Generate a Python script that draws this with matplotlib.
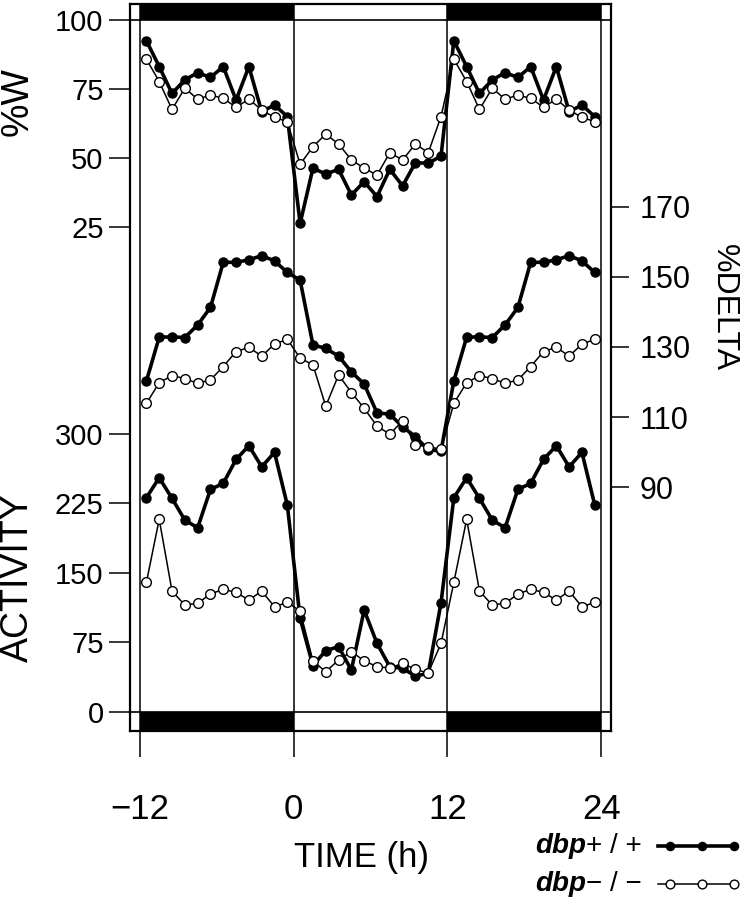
import matplotlib
matplotlib.use('Agg')
import matplotlib.pyplot as plt
from matplotlib.lines import Line2D
from matplotlib.patches import Rectangle

plt.rcParams['font.family'] = ['Liberation Sans', 'DejaVu Sans']

# ---------------- data (hourly means, half-hour centred) ----------------
# dark period (-12..0) and light period (0..12); the dark period is double plotted at 12..24
hours_dark = [-11.5, -10.5, -9.5, -8.5, -7.5, -6.5, -5.5, -4.5, -3.5, -2.5, -1.5, -0.5]
hours_light = [0.5, 1.5, 2.5, 3.5, 4.5, 5.5, 6.5, 7.5, 8.5, 9.5, 10.5, 11.5]
hours_dark2 = [12.5, 13.5, 14.5, 15.5, 16.5, 17.5, 18.5, 19.5, 20.5, 21.5, 22.5, 23.5]

wake_wt_dark = [92.5, 83.1, 73.4, 78.3, 80.9, 79.2, 83.1, 71.0, 83.1, 66.8, 69.2, 65.0]
wake_wt_light = [26.3, 46.3, 44.2, 45.9, 36.6, 41.4, 36.0, 45.9, 39.9, 48.3, 48.1, 50.7]
wake_ko_dark = [85.8, 77.7, 67.6, 75.3, 71.3, 72.8, 71.6, 68.4, 71.3, 67.4, 64.7, 63.2]
wake_ko_light = [47.7, 54.1, 58.6, 55.1, 49.3, 46.3, 43.8, 51.9, 49.3, 55.1, 51.9, 65.0]

delta_wt_dark = [120.3, 132.8, 132.9, 132.7, 136.3, 141.3, 154.2, 154.2, 154.9, 156.1, 154.6, 151.3]
delta_wt_light = [149.1, 130.6, 129.6, 127.4, 122.9, 119.4, 111.2, 110.8, 107.2, 104.4, 100.6, 100.3]
delta_ko_dark = [113.9, 119.8, 121.8, 121.0, 119.6, 120.6, 124.4, 128.7, 129.9, 127.4, 130.8, 132.2]
delta_ko_light = [126.8, 124.9, 113.1, 122.0, 117.0, 112.5, 107.4, 105.1, 108.9, 102.0, 101.5, 100.8]

act_wt_dark = [231.2, 252.8, 230.5, 207.1, 198.8, 240.2, 246.7, 272.6, 287.3, 264.6, 280.1, 223.3]
act_wt_light = [101.1, 50.0, 66.2, 70.5, 45.3, 110.0, 74.1, 48.9, 47.1, 38.8, 41.7, 117.9]
act_ko_dark = [139.9, 207.9, 130.5, 115.4, 117.3, 127.3, 132.4, 129.1, 120.8, 130.5, 113.6, 118.3]
act_ko_light = [109.0, 55.0, 43.5, 56.1, 65.0, 55.3, 48.9, 47.5, 52.5, 46.0, 42.0, 74.1]

x_ticks = [-12, 0, 12, 24]
wake_ticks = [25, 50, 75, 100]
act_ticks = [0, 75, 150, 225, 300]
delta_ticks = [90, 110, 130, 150, 170]

hours = hours_dark + hours_light + hours_dark2


def triple(dark, light):
    return dark + light + dark

# ---------------- layout (pixel calibration of the reference) ----------------
W, H = 747, 899
fx0, fx1 = 130.0, 610.7      # outer frame, px
fy0, fy1 = 4.0, 730.7
px_per_h = 12.81
x_m12 = 140.0


def t_of(px):
    return -12 + (px - x_m12) / px_per_h


xlim = (t_of(fx0), t_of(fx1))


def lim(v_ref, y_ref, px_per_unit):
    # value at frame bottom, value at frame top
    return (v_ref - (fy1 - y_ref) / px_per_unit, v_ref + (y_ref - fy0) / px_per_unit)


rect = [fx0 / W, 1 - fy1 / H, (fx1 - fx0) / W, (fy1 - fy0) / H]

fig = plt.figure(figsize=(W / 100, H / 100), dpi=100)

# frame axes: y in reference pixels (downward)
ax = fig.add_axes(rect)
ax.set_xlim(*xlim)
ax.set_ylim(fy1, fy0)
for s in ax.spines.values():
    s.set_linewidth(1.6)
ax.set_yticks([])
ax.set_xticks(x_ticks)
ax.set_xticklabels(['\u221212', '0', '12', '24'])
ax.tick_params(axis='x', direction='out', length=19, width=1.1, pad=26, labelsize=25)

# light/dark bars
for y0, y1 in [(fy0, 20.0), (712.0, fy1)]:
    ax.add_patch(Rectangle((-12, y0), 12, y1 - y0, color='black', lw=0))
    ax.add_patch(Rectangle((12, y0), 12, y1 - y0, color='black', lw=0))
ax.axhline(20.0, color='black', lw=1.2)
ax.axhline(712.0, color='black', lw=1.2)
for xv in x_ticks:
    ax.axvline(xv, color='black', lw=1.1)

wt_style = dict(color='black', lw=2.6, marker='o', ms=6.5, mfc='black', mec='black')
ko_style = dict(color='black', lw=1.1, marker='o', ms=7.0, mfc='white', mec='black', mew=1.0)


def data_axes(ylims):
    a = fig.add_axes(rect, frameon=False)
    a.set_xlim(*xlim)
    a.set_ylim(*ylims)
    a.set_xticks([])
    a.patch.set_visible(False)
    return a

# %W
ax_w = data_axes(lim(100, 20.0, 2.76))
ax_w.plot(hours, triple(wake_wt_dark, wake_wt_light), **wt_style, zorder=3)
ax_w.plot(hours, triple(wake_ko_dark, wake_ko_light), **ko_style, zorder=4)
ax_w.set_yticks(wake_ticks)
ax_w.tick_params(axis='y', left=True, right=False, labelleft=True, direction='out',
                 length=15, width=1.1, pad=4, labelsize=21)

# ACTIVITY
ax_a = data_axes(lim(0, 712.0, 0.9267))
ax_a.plot(hours, triple(act_wt_dark, act_wt_light), **wt_style, zorder=3)
ax_a.plot(hours, triple(act_ko_dark, act_ko_light), **ko_style, zorder=4)
ax_a.set_yticks(act_ticks)
ax_a.tick_params(axis='y', left=True, right=False, labelleft=True, direction='out',
                 length=15, width=1.1, pad=4, labelsize=21)

# %DELTA
ax_d = data_axes(lim(170, 207.0, 3.5))
ax_d.plot(hours, triple(delta_wt_dark, delta_wt_light), **wt_style, zorder=3)
ax_d.plot(hours, triple(delta_ko_dark, delta_ko_light), **ko_style, zorder=4)
ax_d.set_yticks(delta_ticks)
ax_d.yaxis.set_label_position('right')
ax_d.tick_params(axis='y', left=False, right=True, labelleft=False, labelright=True,
                 direction='out', length=13, width=1.1, pad=8, labelsize=22)

# axis titles
fig.text(18 / W, 1 - 102 / H, '%W', rotation=90, ha='center', va='center', fontsize=27)
fig.text(18 / W, 1 - 578 / H, 'ACTIVITY', rotation=90, ha='center', va='center', fontsize=27)
fig.text(724 / W, 1 - 308 / H, '%DELTA', rotation=-90, ha='center', va='center', fontsize=23)
fig.text(362 / W, 1 - 858 / H, 'TIME (h)', ha='center', va='center', fontsize=25)

# legend
for ytxt, sign, style in [(846, '+ / +', wt_style), (884, '\u2212 / \u2212', ko_style)]:
    fig.text(535 / W, 1 - ytxt / H, 'dbp', style='italic', weight='bold',
             ha='left', va='center', fontsize=20)
    fig.text(586 / W, 1 - ytxt / H, sign, ha='left', va='center', fontsize=20)
    xs = [658 / W, 670 / W, 702 / W, 734 / W]
    ys = [1 - ytxt / H] * 4
    st = dict(style)
    st['ms'] = st['ms'] * 0.9
    fig.add_artist(Line2D(xs, ys, transform=fig.transFigure, markevery=[1, 2, 3], **st))

fig.savefig('out.png', dpi=100)
